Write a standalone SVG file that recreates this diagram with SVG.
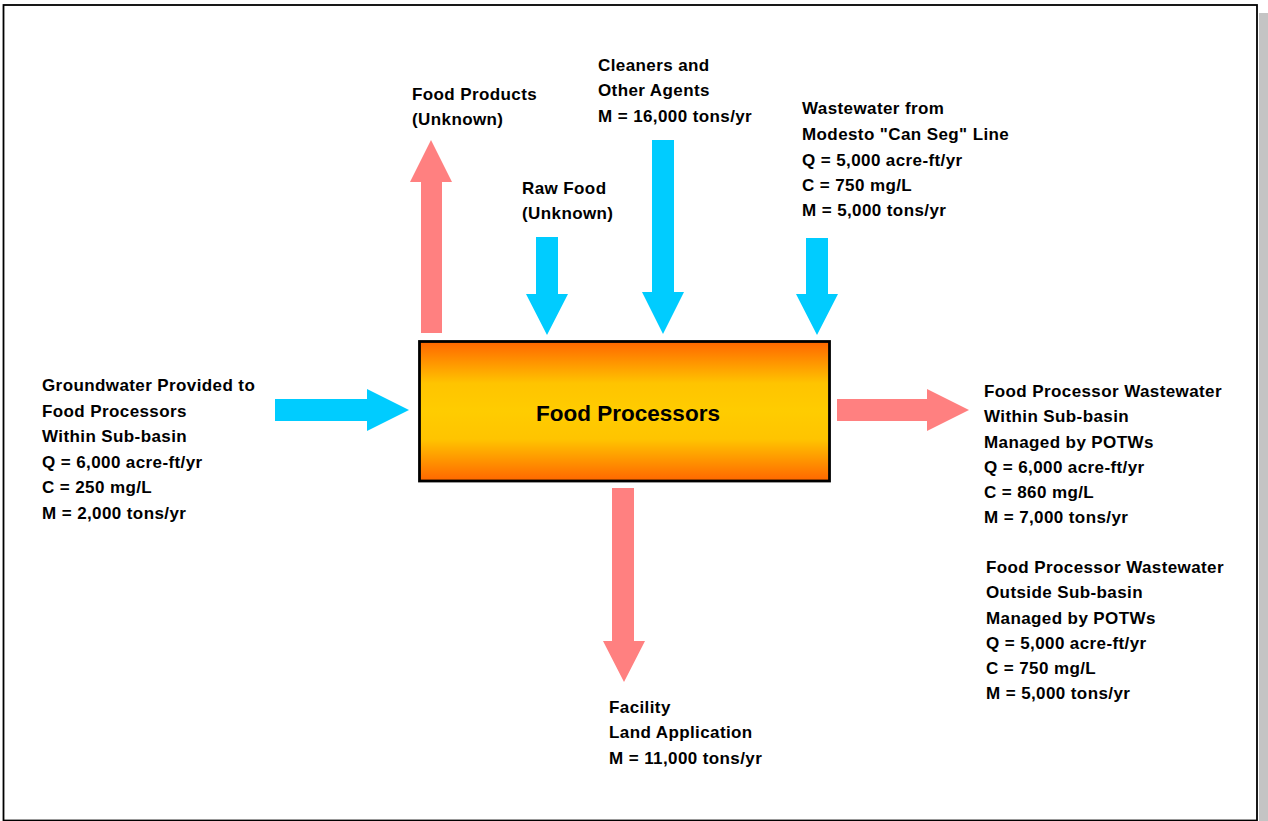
<svg xmlns="http://www.w3.org/2000/svg" width="1268" height="821" viewBox="0 0 1268 821">
  <defs>
    <linearGradient id="procFill" x1="0" y1="0" x2="0" y2="1">
      <stop offset="0" stop-color="#FF6600"/>
      <stop offset="0.3" stop-color="#FFC400"/>
      <stop offset="0.5" stop-color="#FFCC00"/>
      <stop offset="0.7" stop-color="#FFC400"/>
      <stop offset="1" stop-color="#FF6600"/>
    </linearGradient>
  </defs>
  <style>
    .lbl { font-family: "Liberation Sans", Arial, sans-serif; font-weight: bold; font-size: 17px; letter-spacing: 0.4px; fill: #000; }
    .title { font-family: "Liberation Sans", Arial, sans-serif; font-weight: bold; font-size: 22.5px; fill: #000; }
    .inflow { fill: #00CCFF; }
    .outflow { fill: #FF8080; }
  </style>

  <!-- page background, drop shadow and frame -->
  <rect x="0" y="0" width="1268" height="821" fill="#FFFFFF"/>
  <rect x="1259" y="13" width="9" height="808" fill="#C4C4C4"/>
  <rect x="3.5" y="5" width="1253.5" height="815.5" fill="#FFFFFF" stroke="#000" stroke-width="1.8"/>

  <!-- flow arrows -->
  <g id="connectors">
    <polygon id="arrow-groundwater" class="inflow" points="275,399 367,399 367,389 409,410 367,431 367,421 275,421"/>
    <polygon id="arrow-pot-within" class="outflow" points="837,399 927,399 927,389 969,410 927,431 927,421 837,421"/>
    <polygon id="arrow-food-products" class="outflow" points="421,333 421,182 410,182 431,140 452,182 442,182 442,333"/>
    <polygon id="arrow-raw-food" class="inflow" points="536,237 558,237 558,294 568,294 547,335 526,294 536,294"/>
    <polygon id="arrow-cleaners" class="inflow" points="652,140 674,140 674,292 684,292 663,334 642,292 652,292"/>
    <polygon id="arrow-can-seg" class="inflow" points="806,238 828,238 828,294 838,294 817,335 796,294 806,294"/>
    <polygon id="arrow-land-app" class="outflow" points="612,488 634,488 634,641 645,641 624,682 603,641 612,641"/>
  </g>

  <!-- central process box -->
  <g id="food-processors">
    <rect x="419.5" y="341.5" width="410" height="139.5" fill="url(#procFill)" stroke="#000" stroke-width="2.8"/>
    <text class="title" x="628" y="421" text-anchor="middle">Food Processors</text>
  </g>

  <g id="groundwater">
    <text class="lbl" x="42" y="391">Groundwater Provided to</text>
    <text class="lbl" x="42" y="416.5">Food Processors</text>
    <text class="lbl" x="42" y="442">Within Sub-basin</text>
    <text class="lbl" x="42" y="467.5">Q = 6,000 acre-ft/yr</text>
    <text class="lbl" x="42" y="493">C = 250 mg/L</text>
    <text class="lbl" x="42" y="518.5">M = 2,000 tons/yr</text>
  </g>

  <g id="food-products">
    <text class="lbl" x="412" y="100">Food Products</text>
    <text class="lbl" x="412" y="125">(Unknown)</text>
  </g>

  <g id="raw-food">
    <text class="lbl" x="522" y="194">Raw Food</text>
    <text class="lbl" x="522" y="219">(Unknown)</text>
  </g>

  <g id="cleaners">
    <text class="lbl" x="598" y="71">Cleaners and</text>
    <text class="lbl" x="598" y="96">Other Agents</text>
    <text class="lbl" x="598" y="121.5">M = 16,000 tons/yr</text>
  </g>

  <g id="can-seg-wastewater">
    <text class="lbl" x="802" y="114">Wastewater from</text>
    <text class="lbl" x="802" y="140">Modesto "Can Seg" Line</text>
    <text class="lbl" x="802" y="165.5">Q = 5,000 acre-ft/yr</text>
    <text class="lbl" x="802" y="191">C = 750 mg/L</text>
    <text class="lbl" x="802" y="216">M = 5,000 tons/yr</text>
  </g>

  <g id="potw-within">
    <text class="lbl" x="984" y="397">Food Processor Wastewater</text>
    <text class="lbl" x="984" y="422">Within Sub-basin</text>
    <text class="lbl" x="984" y="448">Managed by POTWs</text>
    <text class="lbl" x="984" y="473">Q = 6,000 acre-ft/yr</text>
    <text class="lbl" x="984" y="498">C = 860 mg/L</text>
    <text class="lbl" x="984" y="523">M = 7,000 tons/yr</text>
  </g>

  <g id="potw-outside">
    <text class="lbl" x="986" y="573">Food Processor Wastewater</text>
    <text class="lbl" x="986" y="598">Outside Sub-basin</text>
    <text class="lbl" x="986" y="623.5">Managed by POTWs</text>
    <text class="lbl" x="986" y="648.5">Q = 5,000 acre-ft/yr</text>
    <text class="lbl" x="986" y="674">C = 750 mg/L</text>
    <text class="lbl" x="986" y="699">M = 5,000 tons/yr</text>
  </g>

  <g id="land-application">
    <text class="lbl" x="609" y="712.5">Facility</text>
    <text class="lbl" x="609" y="738">Land Application</text>
    <text class="lbl" x="609" y="763.5">M = 11,000 tons/yr</text>
  </g>
</svg>
